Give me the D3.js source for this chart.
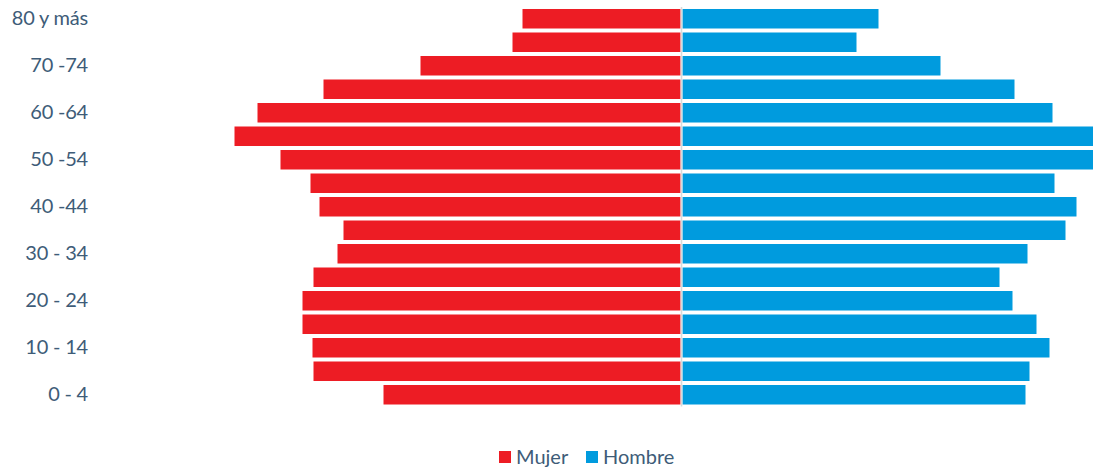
<!DOCTYPE html>
<html>
<head>
<meta charset="utf-8">
<script src="https://cdn.jsdelivr.net/npm/d3@7"></script>
<style>
  body { margin: 0; background: #fff; }
  svg { display: block; }
  .tick text { font-family: Lato, sans-serif; font-size: 20px; fill: #3e5c78; letter-spacing: -0.2px; }
  .legend text { font-family: Lato, sans-serif; font-size: 20px; fill: #3e5c78; }
</style>
</head>
<body>
<div id="chart"></div>
<script>
// age groups, bottom to top
const ageGroups = ['0 - 4', '5 - 9', '10 - 14', '15 - 19', '20 - 24', '25 - 29', '30 - 34', '35 - 39',
  '40 -44', '45 -49', '50 -54', '55 -59', '60 -64', '65 -69', '70 -74', '75 -79', '80 y más'];
const shownLabels = ['0 - 4', '10 - 14', '20 - 24', '30 - 34', '40 -44', '50 -54', '60 -64', '70 -74', '80 y más'];

// share of population (%)
const mujer = [2.97, 3.67, 3.68, 3.78, 3.78, 3.67, 3.43, 3.37, 3.61, 3.70, 4.00, 4.46, 4.23, 3.57, 2.60, 1.68, 1.58];
const hombre = [3.43, 3.47, 3.67, 3.54, 3.30, 3.17, 3.45, 3.83, 3.94, 3.72, 4.20, 4.30, 3.70, 3.32, 2.58, 1.74, 1.96];

const seriesNames = ['Mujer', 'Hombre'];
const colors = ['#ed1c24', '#009bde'];

const width = 1093, height = 470;

const svg = d3.select('#chart')
  .append('svg')
  .attr('width', width)
  .attr('height', height);

const data = ageGroups.map((g, i) => ({ group: g, mujer: mujer[i], hombre: hombre[i] }));

// scales
const yScale = d3.scaleBand()
  .domain(ageGroups.slice().reverse())
  .range([7, 406.5])
  .paddingInner(0.17)
  .paddingOuter(0.085);

const xLeft = d3.scaleLinear().domain([0, 5]).range([680.5, 180.5]);
const xRight = d3.scaleLinear().domain([0, 5]).range([682.5, 1182.5]);

// bars
svg.selectAll('.bar-mujer')
  .data(data)
  .join('rect')
  .attr('class', 'bar-mujer')
  .attr('x', d => xLeft(d.mujer))
  .attr('y', d => yScale(d.group))
  .attr('width', d => xLeft(0) - xLeft(d.mujer))
  .attr('height', yScale.bandwidth())
  .attr('fill', colors[0]);

svg.selectAll('.bar-hombre')
  .data(data)
  .join('rect')
  .attr('class', 'bar-hombre')
  .attr('x', xRight(0))
  .attr('y', d => yScale(d.group))
  .attr('width', d => xRight(d.hombre) - xRight(0))
  .attr('height', yScale.bandwidth())
  .attr('fill', colors[1]);

// center line
svg.append('line')
  .attr('x1', 681.5).attr('x2', 681.5)
  .attr('y1', yScale.range()[0]).attr('y2', yScale.range()[1])
  .attr('stroke', '#d9d9d9')
  .attr('stroke-width', 1.6);

// y axis labels
const yAxis = d3.axisLeft(yScale).tickValues(shownLabels).tickSize(0).tickPadding(0);
svg.append('g')
  .attr('class', 'y-axis')
  .attr('transform', 'translate(88,0)')
  .call(yAxis)
  .call(g => g.select('.domain').remove());

// legend
const legend = svg.append('g').attr('class', 'legend');
const legendX = [499, 586];
seriesNames.forEach((name, i) => {
  legend.append('rect')
    .attr('x', legendX[i]).attr('y', 451)
    .attr('width', 12).attr('height', 12)
    .attr('fill', colors[i]);
  legend.append('text')
    .attr('x', legendX[i] + 17).attr('y', 463.5)
    .text(name);
});
</script>
</body>
</html>
